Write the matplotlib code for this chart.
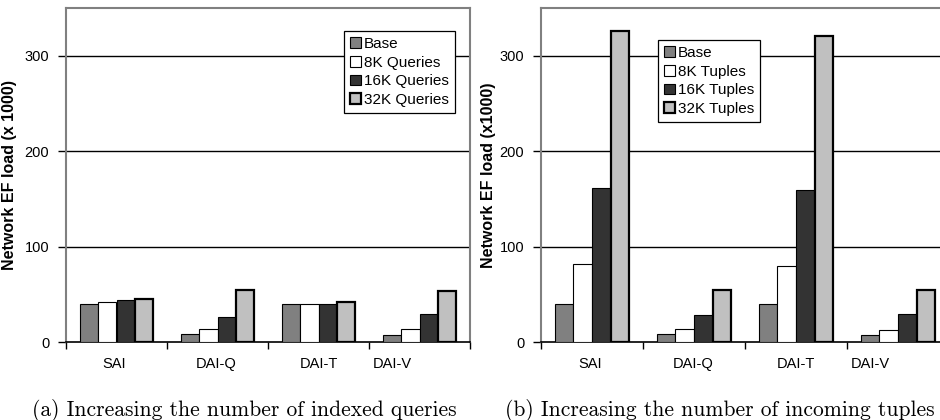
import matplotlib.pyplot as plt
import numpy as np

plt.rcParams['font.family'] = ['Liberation Sans', 'DejaVu Sans']

categories = ['SAI', 'DAI-Q', 'DAI-T', 'DAI-V']

# (a) indexed queries
series_a = ['Base', '8K Queries', '16K Queries', '32K Queries']
vals_a = [
    [40, 8, 40, 7],     # Base
    [42, 14, 40, 14],   # 8K
    [44, 26, 40, 29],   # 16K
    [45.5, 54, 41.5, 53],  # 32K
]

# (b) incoming tuples
series_b = ['Base', '8K Tuples', '16K Tuples', '32K Tuples']
vals_b = [
    [40, 8, 40, 7],
    [82, 14, 80, 13],
    [161.5, 28, 159.5, 29],
    [326, 55, 321, 54],
]

ylabel_a = 'Network EF load (x 1000)'
ylabel_b = 'Network EF load (x1000)'
caption_a = '(a) Increasing the number of indexed queries'
caption_b = '(b) Increasing the number of incoming tuples'

colors = ['#808080', '#ffffff', '#333333', '#c0c0c0']
edge_w = [0.8, 0.8, 0.8, 1.6]
label_pos = [0.48, 1.49, 2.5, 3.23]

fig = plt.figure(figsize=(9.4, 4.2), dpi=100)
ax1 = fig.add_axes([66 / 940, 78 / 420, 404 / 940, 334 / 420])
ax2 = fig.add_axes([541 / 940, 78 / 420, 408 / 940, 334 / 420])


def draw(ax, names, vals, ylabel, label_x, leg_loc, leg_anchor):
    x = np.arange(len(categories))
    w = 0.183
    for i, (name, v) in enumerate(zip(names, vals)):
        ax.bar(x + 0.5 + (i - 1.5) * w, v, width=w, color=colors[i],
               edgecolor='black', linewidth=edge_w[i], label=name, zorder=3)
    ax.set_xlim(0, 4)
    ax.set_ylim(0, 350)
    ax.set_yticks([0, 100, 200, 300])
    ax.set_yticklabels(['0', '100', '200', '300'], fontsize=10.5)
    ax.tick_params(axis='y', direction='out', length=6, width=1, pad=6)
    ax.set_xticks(label_pos)
    ax.set_xticklabels(categories, fontsize=10.5)
    ax.tick_params(axis='x', which='major', length=0, pad=11)
    ax.set_xticks(np.arange(5), minor=True)
    ax.tick_params(axis='x', which='minor', direction='out', length=5, width=1)
    for y in [100, 200, 300]:
        ax.axhline(y, color='black', linewidth=1, zorder=1)
    for s in ['left', 'top', 'right']:
        ax.spines[s].set_color('#808080')
        ax.spines[s].set_linewidth(1.5)
    ax.spines['bottom'].set_color('black')
    ax.spines['bottom'].set_linewidth(1.2)
    ax.set_ylabel(ylabel, fontsize=11.5, fontweight='bold')
    ax.yaxis.set_label_coords(label_x, 0.5)
    leg = ax.legend(loc=leg_loc, bbox_to_anchor=leg_anchor, fontsize=11,
                    fancybox=False, framealpha=1, edgecolor='black',
                    handlelength=0.7, handleheight=0.7, handletextpad=0.2,
                    labelspacing=0.3, borderpad=0.4, borderaxespad=0)
    leg.get_frame().set_linewidth(0.9)
    leg.set_zorder(5)


draw(ax1, series_a, vals_a, ylabel_a, -0.121, 'upper right', (0.963, 0.931))
draw(ax2, series_b, vals_b, ylabel_b, -0.110, 'upper left', (0.287, 0.904))

fig.text(244 / 940, 1 - 410 / 420, caption_a, family='cmr10', fontsize=15.5,
         ha='center', va='center')
fig.text(720 / 940, 1 - 410 / 420, caption_b, family='cmr10', fontsize=15.5,
         ha='center', va='center')

fig.savefig('out.png', dpi=100)
